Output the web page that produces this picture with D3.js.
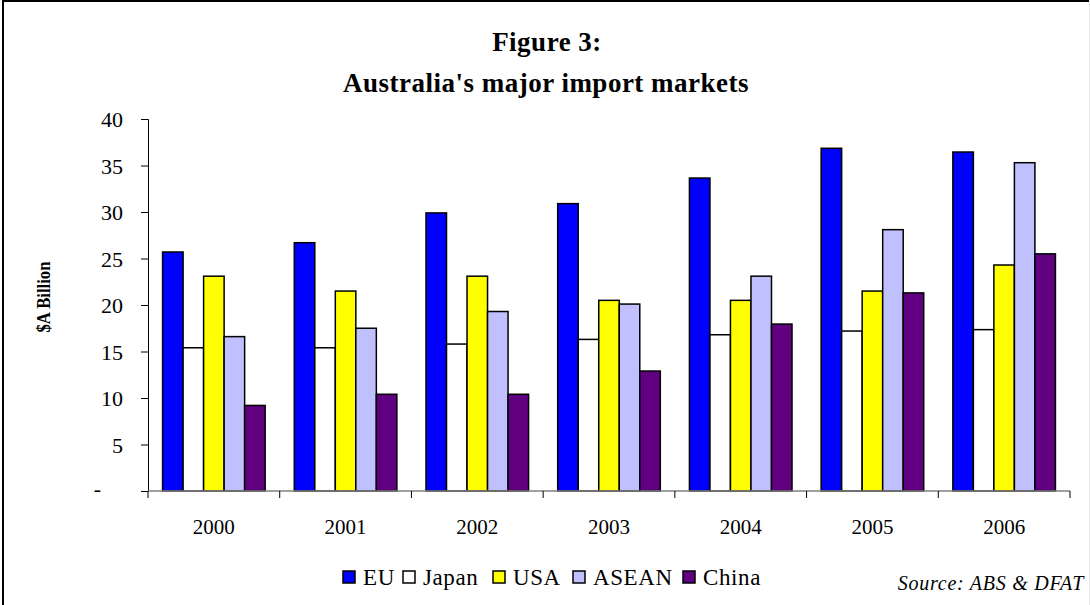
<!DOCTYPE html>
<html>
<head>
<meta charset="utf-8">
<script src="https://cdn.jsdelivr.net/npm/d3@7"></script>
<style>
  body { margin: 0; background: #fff; }
  svg text { font-family: 'Liberation Serif', 'DejaVu Serif', serif; }
</style>
</head>
<body>
<svg id="chart" width="1090" height="605"></svg>
<script>
// data
var years = ["2000", "2001", "2002", "2003", "2004", "2005", "2006"]
var series = ["EU", "Japan", "USA", "ASEAN", "China"]
var colors = ["#0000ff", "#ffffff", "#ffff00", "#c0c0ff", "#600080"]
var eu    = [25.7, 26.7, 29.9, 30.9, 33.65, 36.85, 36.45]
var japan = [15.4, 15.4, 15.8, 16.3, 16.8, 17.2, 17.35]
var usa   = [23.1, 21.5, 23.1, 20.5, 20.5, 21.5, 24.3]
var asean = [16.6, 17.5, 19.3, 20.1, 23.1, 28.1, 35.3]
var china = [9.2, 10.4, 10.4, 12.9, 17.95, 21.3, 25.5]
var yTicks = [0, 5, 10, 15, 20, 25, 30, 35, 40]

var values = [eu, japan, usa, asean, china]
var serif = "'Liberation Serif', 'DejaVu Serif', serif"

svg = d3.select("#chart")

// frame (cropped on the right and bottom in the original)
svg.append("rect")
  .attr("x", 3).attr("y", 1)
  .attr("width", 1100).attr("height", 620)
  .attr("fill", "none").attr("stroke", "#000").attr("stroke-width", 2)
svg.append("line")
  .attr("x1", 1089.5).attr("x2", 1089.5).attr("y1", 0).attr("y2", 605)
  .attr("stroke", "#e6e6e6").attr("stroke-width", 1)

// title
svg.append("text")
  .attr("x", 547).attr("y", 51)
  .attr("text-anchor", "middle")
  .attr("font-family", serif)
  .style("font-size", "27px").style("font-weight", "bold")
  .style("letter-spacing", "0.5px")
  .text("Figure 3:")
svg.append("text")
  .attr("x", 546).attr("y", 92)
  .attr("text-anchor", "middle")
  .attr("font-family", serif)
  .style("font-size", "27px").style("font-weight", "bold")
  .style("letter-spacing", "0.5px")
  .text("Australia's major import markets")

x = d3.scaleBand().domain(years).range([148, 1070]).padding(0)
xs = d3.scaleBand().domain(series).range([0, x.bandwidth()]).paddingInner(0).paddingOuter(0.71)
y = d3.scaleLinear().domain([0, 40]).range([491, 119])

// bars
var groups = svg.append("g").selectAll("g")
  .data(series)
  .enter().append("g")
    .attr("fill", (d, i) => colors[i])

groups.selectAll("rect")
  .data((s, i) => years.map((yr, j) => ({year: yr, series: s, value: values[i][j]})))
  .enter().append("rect")
    .attr("x", d => x(d.year) + xs(d.series))
    .attr("y", d => y(d.value))
    .attr("width", xs.bandwidth())
    .attr("height", d => y(0) - y(d.value))
    .attr("stroke", "#000")
    .attr("stroke-width", 1.5)

// y axis
var yAxis = svg.append("g")
  .attr("transform", "translate(148,0)")
  .call(d3.axisLeft(y).tickValues(yTicks).tickSize(7).tickPadding(18)
    .tickFormat(d => d === 0 ? "-" : d))
yAxis.attr("font-family", serif)
yAxis.select(".domain").attr("stroke", "#000")
yAxis.selectAll(".tick line").attr("stroke", "#000")
yAxis.selectAll("text")
  .style("font-size", "22px")
  .attr("fill", "#000")
  .attr("dy", "0.36em")
yAxis.selectAll(".tick").filter(d => d === 0).select("text")
  .attr("x", -47).attr("dy", "0.2em")

// x axis
var xAxis = svg.append("g")
  .attr("transform", "translate(0,491)")
xAxis.append("line")
  .attr("x1", 148).attr("x2", 1070)
  .attr("stroke", "#808080").attr("stroke-width", 1.5)
xAxis.selectAll(".sep")
  .data(years.concat(["end"]))
  .enter().append("line")
    .attr("class", "sep")
    .attr("x1", (d, i) => i < years.length ? x(d) : x.range()[1])
    .attr("x2", (d, i) => i < years.length ? x(d) : x.range()[1])
    .attr("y1", 0).attr("y2", 7)
    .attr("stroke", "#000")
xAxis.selectAll(".lbl")
  .data(years)
  .enter().append("text")
    .attr("class", "lbl")
    .attr("x", d => x(d) + x.bandwidth() / 2)
    .attr("y", 43)
    .attr("text-anchor", "middle")
    .attr("font-family", serif)
    .style("font-size", "21px")
    .text(d => d)

// y label
svg.append("text")
  .attr("transform", "translate(50,297) rotate(-90)")
  .attr("text-anchor", "middle")
  .attr("font-family", serif)
  .attr("textLength", 71)
  .attr("lengthAdjust", "spacingAndGlyphs")
  .style("font-size", "18px").style("font-weight", "bold")
  .text("$A Billion")

// legend
var legX = [343, 403, 493, 573, 683]
var leg = svg.append("g").selectAll("g")
  .data(series)
  .enter().append("g")
    .attr("transform", (d, i) => `translate(${legX[i]},571)`)
leg.append("rect")
  .attr("width", 12).attr("height", 12)
  .attr("fill", (d, i) => colors[i])
  .attr("stroke", "#000").attr("stroke-width", 1.5)
leg.append("text")
  .attr("x", 20).attr("y", 14)
  .attr("font-family", serif)
  .style("font-size", "23px")
  .style("letter-spacing", "0.6px")
  .text(d => d)

// source
svg.append("text")
  .attr("x", 1084).attr("y", 590)
  .attr("text-anchor", "end")
  .attr("font-family", serif)
  .style("font-size", "20px").style("font-style", "italic")
  .style("letter-spacing", "0.75px")
  .text("Source: ABS & DFAT")
</script>
</body>
</html>
